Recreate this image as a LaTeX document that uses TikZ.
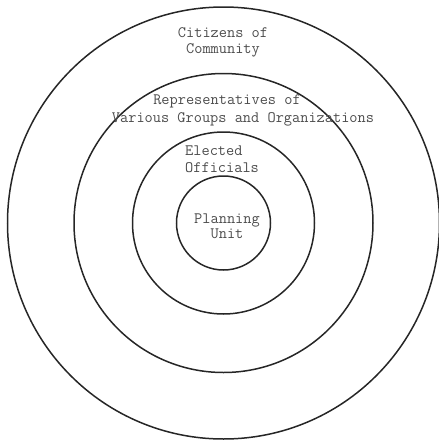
\documentclass[tikz,border=0pt]{standalone}
\begin{document}
\begin{tikzpicture}[x=1pt,y=-1pt,
  ring/.style={draw=black!85,line width=1.5pt},
  lbl/.style={font=\fontsize{15.9}{17}\selectfont\ttfamily,text=black!70,inner sep=0pt,anchor=base}]
\useasboundingbox (0,0) rectangle (439,440);
\coordinate (c) at (223.5,223);
\draw[ring] (c) circle[radius=216];
\draw[ring] (c) circle[radius=149.5];
\draw[ring] (c) circle[radius=91];
\draw[ring] (c) circle[radius=47];
\node[lbl] (cit1) at (223,37) {Citizens of};
\node[lbl] (cit2) at (223,53) {Community};
\node[lbl] (rep1) at (227,104) {Representatives of};
\node[lbl] (rep2) at (243,122) {Various Groups and Organizations};
\node[lbl,anchor=base west] (ele1) at (185,155) {Elected};
\node[lbl,anchor=base west] (ele2) at (185,172) {Officials};
\node[lbl] (pla1) at (227,223) {Planning};
\node[lbl] (pla2) at (227,238) {Unit};
\end{tikzpicture}
\end{document}
